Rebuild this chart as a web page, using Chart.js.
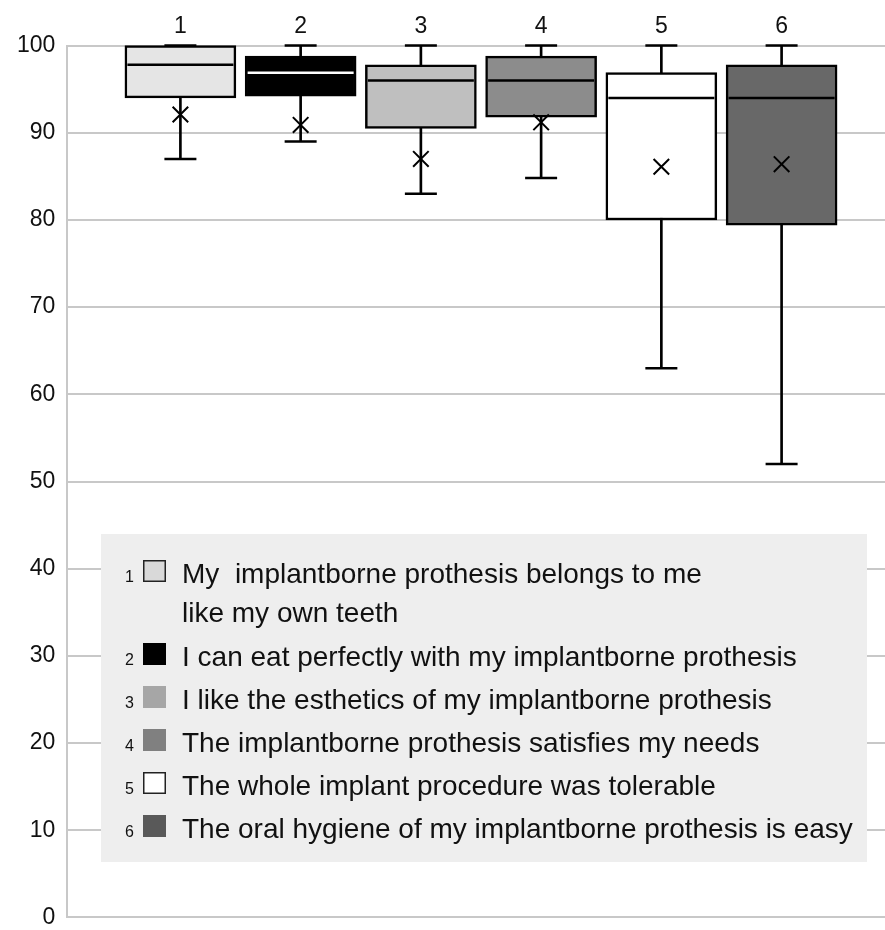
<!DOCTYPE html>
<html>
<head>
<meta charset="utf-8">
<script src="https://cdn.jsdelivr.net/npm/chart.js@4"></script>
<style>
  html, body { margin: 0; padding: 0; background: #ffffff; }
  #wrap { width: 885px; height: 930px; position: relative; }
</style>
</head>
<body>
<div id="wrap"><canvas id="c" width="885" height="930"></canvas></div>
<script>
// ---- data ----
const categories = [1, 2, 3, 4, 5, 6];
const whiskerMin = [87, 89, 83, 84.8, 63, 52];
const q1 = [94, 94.2, 90.5, 91.8, 80, 79.4];
const median = [97.8, 96.9, 96, 96, 94, 94];
const q3 = [100, 98.8, 97.8, 98.8, 96.9, 97.8];
const whiskerMax = [100, 100, 100, 100, 100, 100];
const mean = [92.1, 90.9, 87, 91.2, 86.1, 86.4];
const legendLabels = [
  ["My  implantborne prothesis belongs to me", "like my own teeth"],
  ["I can eat perfectly with my implantborne prothesis"],
  ["I like the esthetics of my implantborne prothesis"],
  ["The implantborne prothesis satisfies my needs"],
  ["The whole implant procedure was tolerable"],
  ["The oral hygiene of my implantborne prothesis is easy"]
];
const yTicks = [0, 10, 20, 30, 40, 50, 60, 70, 80, 90, 100];

// ---- styles ----
const boxFill = ['#e5e5e5', '#000000', '#bfbfbf', '#8c8c8c', '#ffffff', '#686868'];
const medianColor = ['#000000', '#ffffff', '#000000', '#000000', '#000000', '#000000'];
const legendFill = ['#d9d9d9', '#000000', '#a6a6a6', '#808080', '#ffffff', '#595959'];
const legendBorder = [true, false, false, false, true, false];
const FONT = '"Liberation Sans", Arial, Helvetica, sans-serif';

const legendPlugin = {
  id: 'boxLegend',
  beforeDatasetsDraw(chart) {
    const ctx = chart.ctx;
    ctx.save();
    ctx.fillStyle = '#eeeeee';
    ctx.fillRect(101, 534, 766, 328);
    const baselines = [[583, 622], [666], [709], [752], [795], [838]];
    legendLabels.forEach((lines, i) => {
      const b = baselines[i][0];
      ctx.fillStyle = '#111111';
      ctx.font = '16px ' + FONT;
      ctx.textAlign = 'right';
      ctx.textBaseline = 'alphabetic';
      ctx.fillText(String(categories[i]), 134, b - 1);
      ctx.fillStyle = legendFill[i];
      ctx.fillRect(143, b - 23, 23, 22);
      if (legendBorder[i]) {
        ctx.strokeStyle = '#222222';
        ctx.lineWidth = 1.5;
        ctx.strokeRect(143.75, b - 22.25, 21.5, 20.5);
      }
      ctx.fillStyle = '#111111';
      ctx.font = '28px ' + FONT;
      ctx.textAlign = 'left';
      lines.forEach((t, j) => ctx.fillText(t, 182, baselines[i][j]));
    });
    ctx.restore();
  }
};

const toXY = (vals) => categories.map((c, i) => ({ x: c, y: vals[i] }));
const toRange = (lo, hi) => categories.map((c, i) => ({ x: c, y: [lo[i], hi[i]] }));

new Chart(document.getElementById('c'), {
  type: 'bar',
  data: {
    datasets: [
      {
        label: 'whisker',
        data: toRange(whiskerMin, whiskerMax),
        backgroundColor: '#000000',
        borderWidth: 0,
        barThickness: 2,
        grouped: false,
        order: 10,
        clip: false
      },
      {
        label: 'box',
        data: toRange(q1, q3),
        backgroundColor: boxFill,
        borderColor: '#000000',
        borderWidth: 2.5,
        borderSkipped: false,
        barThickness: 111,
        grouped: false,
        order: 9,
        clip: false
      },
      {
        type: 'scatter',
        label: 'median',
        data: toXY(median),
        pointStyle: 'line',
        pointRadius: 53,
        borderColor: medianColor,
        pointBorderColor: medianColor,
        pointBorderWidth: 2.5,
        order: 5,
        clip: false
      },
      {
        type: 'scatter',
        label: 'capHigh',
        data: toXY(whiskerMax),
        pointStyle: 'line',
        pointRadius: 16,
        pointBorderColor: '#000000',
        pointBorderWidth: 2.5,
        order: 4,
        clip: false
      },
      {
        type: 'scatter',
        label: 'capLow',
        data: toXY(whiskerMin),
        pointStyle: 'line',
        pointRadius: 16,
        pointBorderColor: '#000000',
        pointBorderWidth: 2.5,
        order: 3,
        clip: false
      },
      {
        type: 'scatter',
        label: 'mean',
        data: toXY(mean),
        pointStyle: 'crossRot',
        pointRadius: 11,
        pointBorderColor: '#000000',
        pointBorderWidth: 2,
        order: 1,
        clip: false
      }
    ]
  },
  options: {
    responsive: false,
    animation: false,
    events: [],
    layout: { autoPadding: false, padding: { left: 5, right: 0, top: 8, bottom: 0 } },
    plugins: { legend: { display: false }, tooltip: { enabled: false } },
    scales: {
      x: {
        type: 'linear',
        min: 0.06,
        max: 6.86,
        offset: false,
        display: false
      },
      x2: {
        type: 'linear',
        position: 'top',
        min: 0.06,
        max: 6.86,
        offset: false,
        afterBuildTicks: (s) => { s.ticks = categories.map(v => ({ value: v })); },
        grid: { display: false, drawTicks: false, offset: false },
        border: { display: false },
        ticks: {
          padding: 5,
          color: '#111111',
          font: { family: FONT, size: 23 },
          callback: (v) => String(v),
          maxRotation: 0,
          autoSkip: false
        }
      },
      y: {
        type: 'linear',
        min: 0,
        max: 100,
        afterBuildTicks: (s) => { s.ticks = yTicks.map(v => ({ value: v })); },
        grid: { color: '#c8c8c8', lineWidth: 2, drawTicks: false },
        border: { display: true, color: '#c8c8c8', width: 2 },
        ticks: {
          padding: 12,
          color: '#111111',
          font: { family: FONT, size: 23, lineHeight: 0.05 }
        }
      }
    }
  },
  plugins: [legendPlugin]
});
</script>
</body>
</html>
